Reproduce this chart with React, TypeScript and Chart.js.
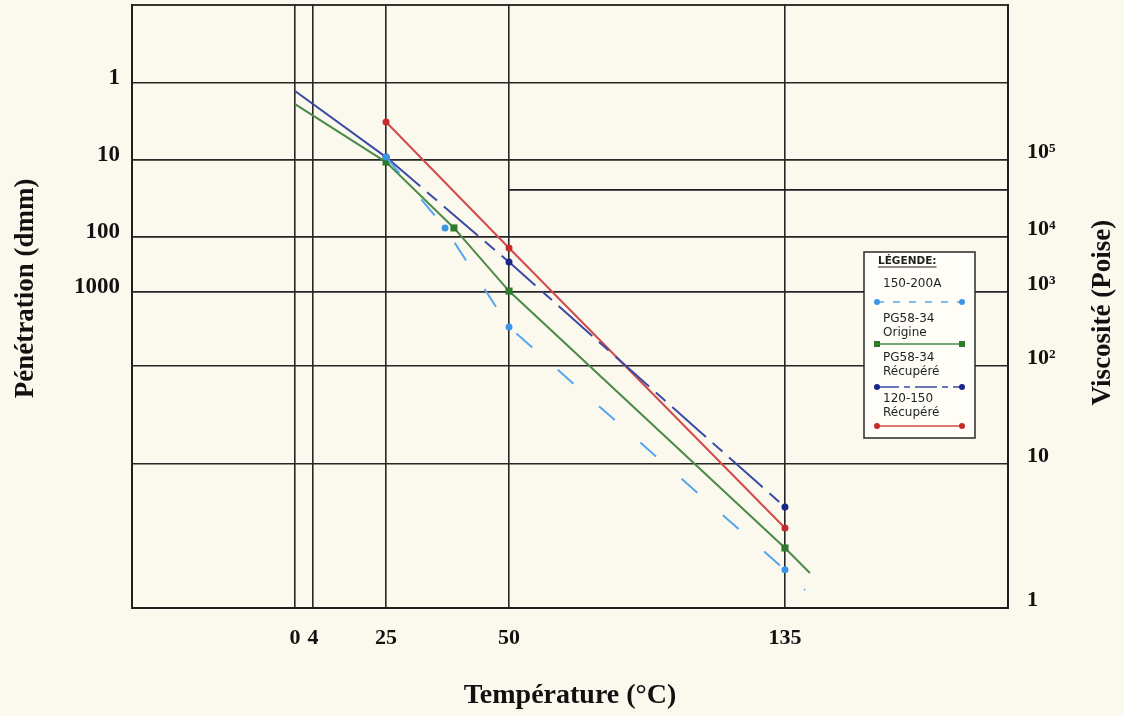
import React, { useEffect, useRef } from 'react';
import { Chart, registerables, LinearScale } from 'chart.js';

// ---------------- data ----------------
const TEMP_TICKS = [0, 4, 25, 50, 135];
const TEMP_TICK_LABELS = ['0', '4', '25', '50', '135'];

const VISC_TICKS = [1, 10, 100, 1000, 10000, 100000];
const VISC_TICK_LABELS = ['1', '10', '10²', '10³', '10⁴', '10⁵'];

const PEN_TICKS = [1, 10, 100, 1000];
const PEN_TICK_LABELS = ['1', '10', '100', '1000'];

const SERIES_LABELS = [
  ['150-200A'],
  ['PG58-34', 'Origine'],
  ['PG58-34', 'Récupéré'],
  ['120-150', 'Récupéré'],
];

// temperature (°C) / viscosity (Poise)
const A150_TEMP = [25, 37, 50, 135, 141.2];
const A150_VISC = [109000, 13100, 337, 1.84, 1.33];

const PGO_TEMP = [0, 25, 38.8, 50, 135, 142.7];
const PGO_VISC = [533000, 94000, 13100, 1040, 2.61, 1.75];

const PGR_TEMP = [0, 25, 50, 135];
const PGR_VISC = [787000, 109000, 3500, 5.02];

const A120_TEMP = [25, 50, 135];
const A120_VISC = [312000, 6300, 3.59];

const REF_TEMP = [50, 204];
const REF_VISC = [41000, 41000];

// ---------------- styles ----------------
const PAPER = '#fbf8ee';
const INK = '#1f1f1f';
const SERIF = "'Liberation Serif', 'DejaVu Serif', 'Times New Roman', serif";
const SANS = "'DejaVu Sans', 'Liberation Sans', sans-serif";

const COLORS = [
  { line: '#55a6ee', mark: '#3b97e6', style: 'circle', dash: [21, 34], legendDash: [7, 9] },
  { line: '#4b8b48', mark: '#2f7a2c', style: 'rect', dash: [], legendDash: [] },
  { line: '#3a4aa5', mark: '#1a2788', style: 'circle', dash: [45, 9, 13, 9], legendDash: [22, 5, 6, 5] },
  { line: '#d24a4a', mark: '#c42b2b', style: 'circle', dash: [], legendDash: [] },
];

// scale shapes of the printed paper (value -> fraction of axis length)
const X_BREAKS = [[-36, 0], [0, 0.1861], [4, 0.2066], [25, 0.29], [50, 0.4304], [135, 0.7454], [204, 1]];
const Y_BREAKS = [[0, 0], [1, 0.2388], [2, 0.4013], [3, 0.524], [4, 0.6153], [5, 0.743], [6, 0.8706], [7, 1]];

class PiecewiseScale extends LinearScale {
  static id = 'piecewise';
  static defaults = { ticks: { callback: (v: number) => String(v) } };

  _t(value: number): number {
    const o: any = this.options;
    if (o.logMode) return o.logOffset + o.logSign * Math.log10(value);
    return value;
  }
  _tInv(t: number): number {
    const o: any = this.options;
    if (o.logMode) return Math.pow(10, (t - o.logOffset) / o.logSign);
    return t;
  }
  getPixelForValue(value: any): number {
    const o: any = this.options;
    if (value === null || value === undefined || !isFinite(value)) return NaN;
    if (o.logMode && value <= 0) return NaN;
    const t = this._t(value);
    const b = o.breaks;
    let i = 0;
    while (i < b.length - 2 && t > b[i + 1][0]) i++;
    const t0 = b[i][0], d0 = b[i][1], t1 = b[i + 1][0], d1 = b[i + 1][1];
    const d = d0 + ((t - t0) * (d1 - d0)) / (t1 - t0);
    return this.getPixelForDecimal(d);
  }
  getValueForPixel(pixel: number): number {
    const o: any = this.options;
    const d = this.getDecimalForPixel(pixel);
    const b = o.breaks;
    let i = 0;
    while (i < b.length - 2 && d > b[i + 1][1]) i++;
    const t0 = b[i][0], d0 = b[i][1], t1 = b[i + 1][0], d1 = b[i + 1][1];
    return this._tInv(t0 + ((d - d0) * (t1 - t0)) / (d1 - d0));
  }
  buildTicks(): any[] {
    const o: any = this.options;
    return o.tickValues.map((v: number) => ({ value: v }));
  }
}

Chart.register(...registerables, PiecewiseScale as any);

const pts = (xs: number[], ys: number[]) => xs.map((x, i) => ({ x, y: ys[i] }));

const bgPlugin = {
  id: 'paperBg',
  beforeDraw(chart: any) {
    const { ctx, width, height } = chart;
    ctx.save();
    ctx.fillStyle = PAPER;
    ctx.fillRect(0, 0, width, height);
    ctx.restore();
  },
};

const drawVerticalTitle = (ctx: any, text: string, x: number, y: number) => {
  ctx.save();
  ctx.translate(x, y);
  ctx.rotate(-Math.PI / 2);
  ctx.font = `bold 27px ${SERIF}`;
  ctx.fillStyle = '#111';
  ctx.textAlign = 'center';
  ctx.textBaseline = 'middle';
  ctx.fillText(text, 0, 0);
  ctx.restore();
};

const framePlugin = {
  id: 'paperFrame',
  beforeDatasetsDraw(chart: any) {
    const { ctx, chartArea } = chart;
    ctx.save();
    ctx.strokeStyle = INK;
    ctx.lineWidth = 1.8;
    ctx.strokeRect(chartArea.left, chartArea.top, chartArea.right - chartArea.left, chartArea.bottom - chartArea.top);
    ctx.restore();
  },
  afterDraw(chart: any) {
    const { ctx, chartArea } = chart;
    const sL = chart.scales.yL;
    const sR = chart.scales.yR;
    const h = chartArea.bottom - chartArea.top;
    // axis titles of the printed paper, both reading bottom-to-top
    drawVerticalTitle(ctx, 'Pénétration (dmm)', sL.left + 26, chartArea.top + h * 0.47);
    drawVerticalTitle(ctx, 'Viscosité (Poise)', sR.right - 21, chartArea.top + h * 0.51);
  },
};

const LEGEND_TEXT_Y = [32, 67, 106, 147];
const LEGEND_LINE_Y = [50, 92, 135, 174];

const legendPlugin = {
  id: 'paperLegend',
  afterDraw(chart: any) {
    const { ctx, chartArea } = chart;
    const bx = chartArea.right - 144;
    const by = chartArea.top + 247;
    const bw = 111;
    const bh = 186;
    ctx.save();
    ctx.fillStyle = '#fffdf7';
    ctx.fillRect(bx, by, bw, bh);
    ctx.strokeStyle = '#2a2a2a';
    ctx.lineWidth = 1.5;
    ctx.strokeRect(bx, by, bw, bh);

    ctx.fillStyle = INK;
    ctx.textAlign = 'left';
    ctx.textBaseline = 'middle';
    ctx.font = `bold 10.5px ${SANS}`;
    const head = 'LÉGENDE:';
    ctx.fillText(head, bx + 14, by + 9);
    const hw = ctx.measureText(head).width;
    ctx.beginPath();
    ctx.moveTo(bx + 14, by + 15);
    ctx.lineTo(bx + 14 + hw, by + 15);
    ctx.lineWidth = 1;
    ctx.strokeStyle = INK;
    ctx.stroke();

    ctx.font = `12px ${SANS}`;
    SERIES_LABELS.forEach((lines, i) => {
      const c = COLORS[i];
      ctx.fillStyle = INK;
      lines.forEach((t, k) => ctx.fillText(t, bx + 19, by + LEGEND_TEXT_Y[i] + k * 14));
      const ly = by + LEGEND_LINE_Y[i];
      const x0 = bx + 13;
      const x1 = bx + 98;
      ctx.beginPath();
      ctx.setLineDash(c.legendDash);
      ctx.moveTo(x0, ly);
      ctx.lineTo(x1, ly);
      ctx.strokeStyle = c.line;
      ctx.lineWidth = 1.6;
      ctx.stroke();
      ctx.setLineDash([]);
      ctx.fillStyle = c.mark;
      [x0, x1].forEach((x) => {
        if (c.style === 'rect') {
          ctx.fillRect(x - 3, ly - 3, 6, 6);
        } else {
          ctx.beginPath();
          ctx.arc(x, ly, 3, 0, Math.PI * 2);
          ctx.fill();
        }
      });
    });
    ctx.restore();
  },
};

const markerRadius = (r: number) => (ctx: any) => {
  const raw = ctx.raw;
  return raw && raw.x >= 25 && raw.x <= 135 ? r : 0;
};

function buildConfig(): any {
  const seriesData = [
    pts(A150_TEMP, A150_VISC),
    pts(PGO_TEMP, PGO_VISC),
    pts(PGR_TEMP, PGR_VISC),
    pts(A120_TEMP, A120_VISC),
  ];
  const datasets: any[] = seriesData.map((data, i) => {
    const c = COLORS[i];
    const ds: any = {
      label: SERIES_LABELS[i].join(' '),
      data,
      xAxisID: 'x',
      yAxisID: 'yR',
      borderColor: c.line,
      backgroundColor: c.mark,
      pointBackgroundColor: c.mark,
      pointBorderColor: c.mark,
      pointBorderWidth: 0,
      pointStyle: c.style,
      pointRadius: markerRadius(c.style === 'rect' ? 5 : 3.5),
      borderWidth: 2,
      borderDash: c.dash,
      tension: 0,
      fill: false,
    };
    if (i === 2) {
      ds.segment = { borderDash: (ctx: any) => (ctx.p0DataIndex === 0 ? [] : c.dash) };
    }
    return ds;
  });
  datasets.push({
    label: 'ref',
    data: pts(REF_TEMP, REF_VISC),
    xAxisID: 'x',
    yAxisID: 'yR',
    borderColor: INK,
    borderWidth: 1.8,
    pointRadius: 0,
    fill: false,
  });

  const gridOpts = { color: '#262626', lineWidth: 1.6, drawTicks: false };
  const borderOpts = { color: INK, width: 1.8 };

  return {
    type: 'line',
    data: { datasets },
    options: {
      animation: false,
      responsive: false,
      devicePixelRatio: 1,
      events: [],
      layout: { padding: { top: 5, left: 0, right: 0, bottom: 0 } },
      plugins: { legend: { display: false }, tooltip: { enabled: false } },
      scales: {
        x: {
          type: 'piecewise',
          axis: 'x',
          position: 'bottom',
          min: -36,
          max: 204,
          breaks: X_BREAKS,
          tickValues: TEMP_TICKS,
          grid: gridOpts,
          border: borderOpts,
          ticks: {
            autoSkip: false,
            maxRotation: 0,
            minRotation: 0,
            padding: 17,
            color: '#111',
            font: { family: SERIF, size: 22, weight: 'bold' },
            callback: (_v: number, i: number) => TEMP_TICK_LABELS[i],
          },
          title: {
            display: true,
            text: 'Température (°C)',
            color: '#111',
            font: { family: SERIF, size: 28, weight: 'bold' },
            padding: { top: 0, bottom: 3 },
          },
          afterFit: (s: any) => {
            s.height = 108;
            s.paddingLeft = 0;
            s.paddingRight = 0;
          },
        },
        yL: {
          type: 'piecewise',
          axis: 'y',
          position: 'left',
          min: 0.1,
          max: 1e6,
          logMode: true,
          logOffset: 6,
          logSign: -1,
          breaks: Y_BREAKS,
          tickValues: PEN_TICKS,
          grid: gridOpts,
          border: borderOpts,
          ticks: {
            autoSkip: false,
            padding: 12,
            labelOffset: -5,
            color: '#111',
            font: { family: SERIF, size: 23, weight: 'bold' },
            callback: (_v: number, i: number) => PEN_TICK_LABELS[i],
          },
          afterFit: (s: any) => {
            s.width = 132;
            s.paddingTop = 0;
            s.paddingBottom = 0;
          },
        },
        yR: {
          type: 'piecewise',
          axis: 'y',
          position: 'right',
          min: 1,
          max: 1e7,
          logMode: true,
          logOffset: 0,
          logSign: 1,
          breaks: Y_BREAKS,
          tickValues: VISC_TICKS,
          grid: gridOpts,
          border: borderOpts,
          ticks: {
            autoSkip: false,
            padding: 19,
            labelOffset: -8,
            color: '#111',
            font: { family: SERIF, size: 22, weight: 'bold' },
            callback: (_v: number, i: number) => VISC_TICK_LABELS[i],
          },
          afterFit: (s: any) => {
            s.width = 116;
            s.paddingTop = 0;
            s.paddingBottom = 0;
          },
        },
      },
    },
    plugins: [bgPlugin, framePlugin, legendPlugin],
  };
}

export default function App() {
  const ref = useRef<HTMLCanvasElement>(null);
  useEffect(() => {
    if (!ref.current) return;
    const chart = new Chart(ref.current, buildConfig());
    return () => chart.destroy();
  }, []);
  return (
    <div style={{ position: 'absolute', left: 0, top: 0, width: 1124, height: 716, background: PAPER }}>
      <canvas ref={ref} width={1124} height={716} style={{ display: 'block', width: 1124, height: 716 }} />
    </div>
  );
}
